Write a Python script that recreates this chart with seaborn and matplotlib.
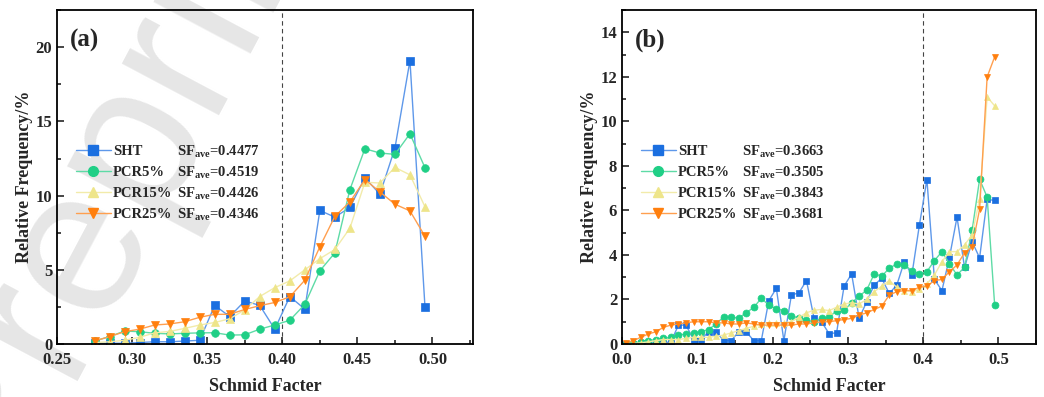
import matplotlib
matplotlib.use("Agg")
import matplotlib.pyplot as plt
from matplotlib.lines import Line2D
from matplotlib.ticker import MultipleLocator, FormatStrFormatter
import pandas as pd
import seaborn as sns

# ---- panel (a) data: bin centres 0.275 ... 0.495
sf_a = [0.275, 0.285, 0.295, 0.305, 0.315, 0.325, 0.335, 0.345, 0.355, 0.365, 0.375, 0.385,
        0.395, 0.405, 0.415, 0.425, 0.435, 0.445, 0.455, 0.465, 0.475, 0.485, 0.495]
sht_a = [0.05, 0.05, 0.05, 0.1, 0.15, 0.15, 0.2, 0.25, 2.6, 1.85, 2.9, 2.6,
         1.0, 3.2, 2.35, 9.0, 8.55, 9.2, 11.2, 10.1, 13.2, 19.1, 2.5]
pcr5_a = [0.2, 0.5, 0.87, 0.83, 0.72, 0.68, 0.72, 0.75, 0.76, 0.6, 0.62, 1.0,
          1.28, 1.6, 2.67, 4.93, 6.14, 10.4, 13.16, 12.87, 12.78, 14.17, 11.88]
pcr15_a = [0.1, 0.15, 0.25, 0.45, 0.75, 0.85, 1.05, 1.28, 1.45, 1.7, 2.3, 3.2,
           3.8, 4.25, 5.0, 5.75, 6.37, 7.8, 10.9, 10.85, 11.9, 11.4, 9.25]
pcr25_a = [0.2, 0.5, 0.83, 1.0, 1.28, 1.35, 1.5, 1.8, 2.0, 2.0, 2.33, 2.58,
           2.8, 3.18, 4.3, 6.55, 8.6, 9.57, 11.08, 10.25, 9.42, 8.97, 7.26]

# ---- panel (b) data: bin centres 0.005 ... 0.495
sf_b = [round(0.005 + 0.01 * i, 3) for i in range(50)]
sht_b = [0.02, 0.02, 0.05, 0.05, 0.05, 0.05, 0.1, 0.85, 0.85, 0.2,
         0.2, 0.55, 0.55, 0.15, 0.15, 0.55, 0.55, 0.15, 0.15, 1.95,
         2.5, 0.15, 2.2, 2.3, 2.85, 1.17, 1.0, 0.47, 0.5, 2.6,
         3.15, 1.15, 1.9, 2.65, 2.95, 2.27, 2.65, 3.7, 3.1, 5.34,
         7.39, 2.9, 2.4, 3.9, 5.7, 3.44, 4.6, 3.87, 6.5, 6.45]
pcr5_b = [0.02, 0.05, 0.1, 0.15, 0.2, 0.25, 0.3, 0.4, 0.45, 0.5,
          0.55, 0.65, 0.9, 1.22, 1.2, 1.17, 1.4, 1.65, 2.05, 1.75,
          1.58, 1.5, 1.28, 1.15, 1.07, 1.0, 1.15, 1.2, 1.5, 1.52,
          1.85, 2.15, 2.42, 3.15, 3.05, 3.4, 3.6, 3.55, 3.3, 3.15,
          3.25, 3.75, 4.15, 3.6, 3.1, 3.45, 5.1, 7.4, 6.6, 1.75]
pcr15_b = [0.02, 0.03, 0.05, 0.1, 0.15, 0.2, 0.2, 0.2, 0.25, 0.3,
           0.3, 0.3, 0.35, 0.4, 0.5, 0.6, 0.7, 0.8, 0.9, 0.95,
           0.95, 0.95, 1.0, 1.2, 1.4, 1.52, 1.55, 1.5, 1.65, 1.8,
           1.85, 1.8, 2.0, 2.35, 2.6, 2.85, 2.55, 2.4, 2.35, 2.45,
           2.7, 3.1, 3.7, 4.15, 4.15, 4.45, 4.9, 6.5, 11.1, 10.7]
pcr25_b = [0.05, 0.15, 0.3, 0.45, 0.55, 0.75, 0.85, 0.9, 0.95, 1.0,
           1.0, 1.0, 0.95, 0.95, 0.9, 0.9, 0.95, 0.9, 0.85, 0.85,
           0.85, 0.85, 0.85, 0.9, 0.9, 0.95, 1.0, 1.0, 1.05, 1.1,
           1.15, 1.3, 1.4, 1.55, 1.7, 2.2, 2.35, 2.4, 2.4, 2.55,
           2.6, 2.85, 2.9, 3.25, 3.55, 4.1, 4.35, 6.05, 12.0, 12.9]

names = ["SHT", "PCR5%", "PCR15%", "PCR25%"]
sf_ave_a = ["0.4477", "0.4519", "0.4426", "0.4346"]
sf_ave_b = ["0.3663", "0.3505", "0.3843", "0.3681"]

colors = ["#1B6FE0", "#20CF86", "#EEE58A", "#FF7F0E"]
line_colors = ["#5E98EA", "#5EDBA6", "#F2EBAA", "#FF9F4F"]
markers = ["s", "o", "^", "v"]

sns.set_style("white")
plt.rcParams["font.family"] = ["Liberation Serif", "DejaVu Serif"]
plt.rcParams["font.weight"] = "bold"
plt.rcParams["mathtext.fontset"] = "custom"
plt.rcParams["mathtext.rm"] = "Liberation Serif:bold"
plt.rcParams["mathtext.bf"] = "Liberation Serif:bold"

fig = plt.figure(figsize=(10.44, 3.97), dpi=100)
ax_a = fig.add_axes([0.0546, 0.1335, 0.3985, 0.841])
ax_b = fig.add_axes([0.5958, 0.1335, 0.3966, 0.841])

# faint watermark behind the panels
fig.text(0.116, 0.615, "Preprint", fontsize=150, color="#e6e6e6", rotation=62,
         ha="center", va="center", family="Liberation Sans", fontweight="normal",
         zorder=0)


def draw(ax, sf, series, ms):
    df = pd.DataFrame({"sf": sf})
    for name, vals in zip(names, series):
        df[name] = vals
    for name, c, lc, m in zip(names, colors, line_colors, markers):
        sns.lineplot(data=df, x="sf", y=name, ax=ax, color=lc, lw=1.0,
                     marker=m, markersize=ms, markerfacecolor=c,
                     markeredgecolor=c, markeredgewidth=0.5)


def style(ax, xlim, ylim, xmaj, xmin, ymaj, ymin, xfmt, label):
    ax.patch.set_alpha(0)
    ax.set_zorder(1)
    ax.set_xlim(*xlim)
    ax.set_ylim(*ylim)
    ax.xaxis.set_major_locator(MultipleLocator(xmaj))
    ax.xaxis.set_minor_locator(MultipleLocator(xmin))
    ax.yaxis.set_major_locator(MultipleLocator(ymaj))
    ax.yaxis.set_minor_locator(MultipleLocator(ymin))
    ax.xaxis.set_major_formatter(FormatStrFormatter(xfmt))
    ax.tick_params(which="both", direction="in", bottom=True, left=True,
                   top=False, right=False, labelsize=12, width=1.2)
    ax.tick_params(which="major", length=5)
    ax.tick_params(which="minor", length=3)
    ax.tick_params(axis="x", pad=6)
    for t in ax.get_xticklabels() + ax.get_yticklabels():
        t.set_fontweight("bold")
    for s in ax.spines.values():
        s.set_linewidth(1.3)
        s.set_color("black")
    ax.set_xlabel("Schmid Facter", fontsize=13, fontweight="bold", labelpad=7)
    ax.set_ylabel("Relative Frequency/%", fontsize=13, fontweight="bold", labelpad=2)
    ax.axvline(0.4, color="#444444", lw=0.8, ls=(0, (4, 3)), zorder=0)
    ax.text(0.03, 0.945, label, transform=ax.transAxes, fontsize=18,
            fontweight="bold", va="top", ha="left")

    handles = [Line2D([], [], color=lc, lw=1.0, marker=m, markersize=7,
                      markerfacecolor=c, markeredgecolor=c)
               for c, lc, m in zip(colors, line_colors, markers)]
    leg = ax.legend(handles, names, loc="center left",
                    bbox_to_anchor=(0.045, 0.482), frameon=False, fontsize=10.5,
                    handlelength=2.4, handletextpad=0.15, labelspacing=0.53,
                    borderaxespad=0, borderpad=0)
    for t in leg.get_texts():
        t.set_fontweight("bold")
    return leg


def add_sf(ax, leg, aves, gap_px):
    # put the SF_ave column on the same baselines as the legend labels
    fig.canvas.draw()
    renderer = fig.canvas.get_renderer()
    texts = leg.get_texts()
    x0 = texts[0].get_window_extent(renderer).x0 + gap_px
    inv = ax.transAxes.inverted()
    for t, v in zip(texts, aves):
        bb = t.get_window_extent(renderer)
        _, _, d = renderer.get_text_width_height_descent("lp", t.get_fontproperties(), ismath=False)
        xa, ya = inv.transform((x0, bb.y0 + d))
        ax.text(xa, ya, r"SF$_{\mathbf{ave}}$=" + v, transform=ax.transAxes,
                fontsize=10.5, fontweight="bold", va="baseline", ha="left")


draw(ax_a, sf_a, [sht_a, pcr5_a, pcr15_a, pcr25_a], 5.5)
leg_a = style(ax_a, (0.25, 0.527), (0, 22.5), 0.05, 0.025, 5, 2.5, "%.2f", "(a)")

draw(ax_b, sf_b, [sht_b, pcr5_b, pcr15_b, pcr25_b], 5)
leg_b = style(ax_b, (0.0, 0.55), (0, 15), 0.1, 0.05, 2, 1, "%.1f", "(b)")

add_sf(ax_a, leg_a, sf_ave_a, 64)
add_sf(ax_b, leg_b, sf_ave_b, 64)

fig.savefig("out.png", dpi=100)
